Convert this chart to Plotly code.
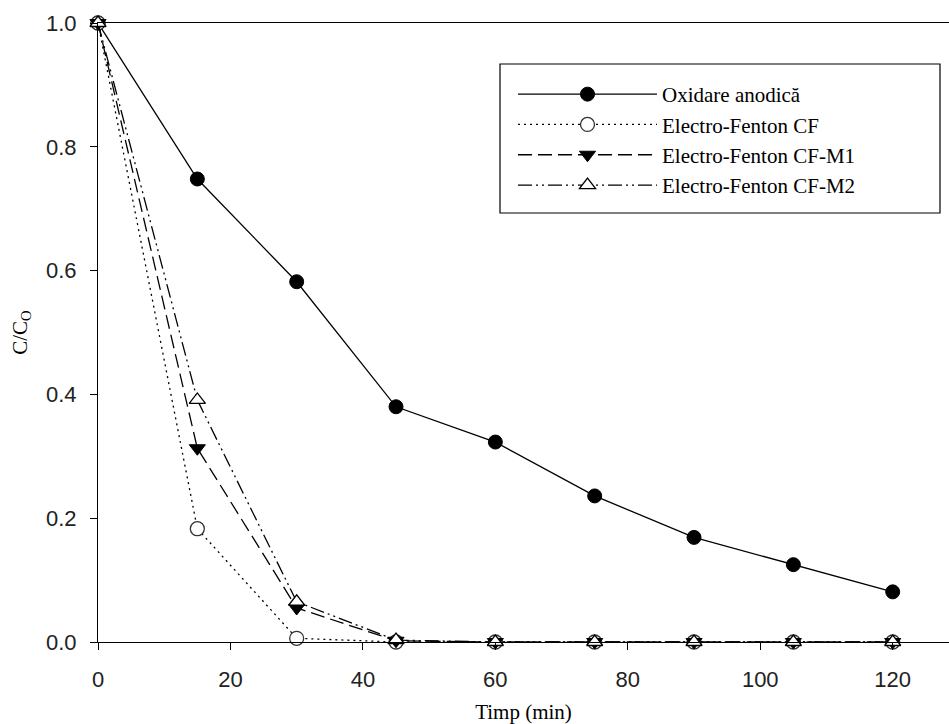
import plotly.graph_objects as go

time_min = [0, 15, 30, 45, 60, 75, 90, 105, 120]
oxidare_anodica = [1.0, 0.748, 0.582, 0.380, 0.323, 0.236, 0.169, 0.125, 0.081]
ef_cf = [1.0, 0.183, 0.006, 0.0, 0.0, 0.0, 0.0, 0.0, 0.0]
ef_cf_m1 = [1.0, 0.313, 0.055, 0.002, 0.0, 0.0, 0.0, 0.0, 0.0]
ef_cf_m2 = [1.0, 0.391, 0.065, 0.003, 0.0, 0.0, 0.0, 0.0, 0.0]
series_names = ["Oxidare anodică", "Electro-Fenton CF", "Electro-Fenton CF-M1", "Electro-Fenton CF-M2"]
x_ticks = [0, 20, 40, 60, 80, 100, 120]
y_ticks = [0.0, 0.2, 0.4, 0.6, 0.8, 1.0]

W, H = 949, 724
L, R, T, B = 98, 0, 23, 82
pw, ph = W - L - R, H - T - B

fig = go.Figure()
fig.add_trace(go.Scatter(
    x=time_min, y=oxidare_anodica, name=series_names[0], mode="lines+markers",
    line=dict(color="black", width=1.3),
    marker=dict(symbol="circle", size=14, color="black", line=dict(color="black", width=1)),
    cliponaxis=False))
fig.add_trace(go.Scatter(
    x=time_min, y=ef_cf, name=series_names[1], mode="lines+markers",
    line=dict(color="black", width=1.3, dash="2px,4px"),
    marker=dict(symbol="circle", size=14, color="white", line=dict(color="#333", width=1.3)),
    cliponaxis=False))
fig.add_trace(go.Scatter(
    x=time_min, y=ef_cf_m1, name=series_names[2], mode="lines+markers",
    line=dict(color="black", width=1.3, dash="14px,6px"),
    marker=dict(symbol="triangle-down", size=14, color="black", line=dict(color="black", width=1)),
    cliponaxis=False))
fig.add_trace(go.Scatter(
    x=time_min, y=ef_cf_m2, name=series_names[3], mode="lines+markers",
    line=dict(color="black", width=1.3, dash="14px,4px,2px,4px,2px,4px"),
    marker=dict(symbol="triangle-up", size=14, color="white", line=dict(color="black", width=1.3)),
    cliponaxis=False))

tick_font = dict(family="Liberation Sans, Arial, sans-serif", size=22, color="#222")
serif = "Liberation Serif, Times New Roman, serif"

fig.update_layout(
    width=W, height=H,
    margin=dict(l=L, r=R, t=T, b=B, pad=0),
    paper_bgcolor="white", plot_bgcolor="white",
    showlegend=True,
    legend=dict(
        x=(513 - L) / pw, y=(642 - 74) / ph, xanchor="left", yanchor="top",
        bgcolor="rgba(0,0,0,0)", borderwidth=0,
        font=dict(family=serif, size=21, color="black"),
        tracegroupgap=0, itemwidth=139,
    ),
    xaxis=dict(
        range=[0, 128.5], tickvals=x_ticks, ticks="outside", ticklen=7, tickwidth=1.2,
        tickcolor="black", showline=True, linecolor="black", linewidth=1.2, mirror=True,
        showgrid=False, zeroline=False, tickfont=tick_font, ticklabelstandoff=10,
        title=dict(text="Timp (min)", font=dict(family=serif, size=21, color="black"), standoff=14),
    ),
    yaxis=dict(
        range=[0, 1.0], tickvals=y_ticks, tickformat=".1f", ticks="outside", ticklen=7, tickwidth=1.2,
        tickcolor="black", showline=True, linecolor="black", linewidth=1.2, mirror=False,
        showgrid=False, zeroline=False, tickfont=tick_font, ticklabelstandoff=9,
        title=dict(text="C/C<sub>O</sub>", font=dict(family=serif, size=21, color="black"), standoff=12),
    ),
    shapes=[dict(
        type="rect", xref="paper", yref="paper",
        x0=(500 - L) / pw, x1=(940 - L) / pw, y0=(642 - 213) / ph, y1=(642 - 64) / ph,
        line=dict(color="black", width=1.2), fillcolor="rgba(0,0,0,0)", layer="below")],
)

fig.write_html("out.html")
